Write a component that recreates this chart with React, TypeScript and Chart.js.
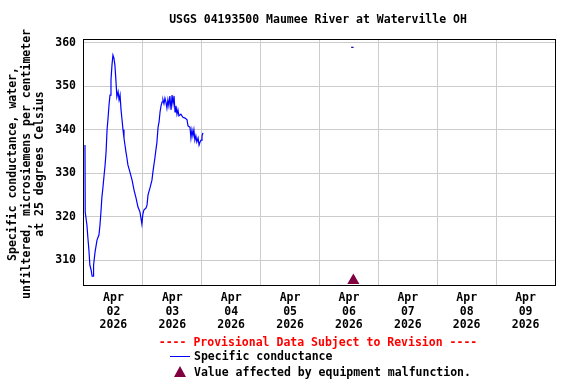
import React, { useEffect, useRef } from "react";
import { Chart, registerables } from "chart.js";

Chart.register(...registerables);

const TITLE = "USGS 04193500 Maumee River at Waterville OH";
const Y_TITLE = [
  "Specific conductance, water,",
  "unfiltered, microsiemens per centimeter",
  "at 25 degrees Celsius",
];
const MONTH = "Apr";
const YEAR = "2026";
const DAYS = ["02", "03", "04", "05", "06", "07", "08", "09"];
const Y_TICKS = [310, 320, 330, 340, 350, 360];

// hours since Apr 02 2026 00:00
const HOURS = [
  0.4, 0.5, 1.2, 1.6, 2.0, 2.4, 2.9, 3.3, 3.7, 3.9, 4.5, 5.3, 6.1, 6.5, 6.9, 7.3, 7.7, 8.2, 8.6, 9.0,
  9.4, 9.8, 10.2, 10.6, 11.0, 11.4, 11.8, 12.2, 12.6, 13.0, 13.4, 13.9, 14.3, 14.7, 15.1, 15.5, 15.9,
  16.3, 16.7, 17.1, 17.5, 17.9, 18.7, 19.6, 20.4, 21.2, 22.0, 22.8, 23.2, 23.6, 24.0, 24.4, 25.3, 25.7,
  26.1, 26.9, 27.7, 28.1, 28.5, 28.9, 29.3, 29.7, 30.2, 30.6, 31.0, 31.4, 31.8, 32.2, 32.6, 33.0, 33.4,
  33.8, 34.2, 34.6, 35.0, 35.5, 35.9, 36.3, 36.7, 37.1, 37.5, 37.9, 38.3, 38.7, 39.5, 40.3, 41.2, 42.0,
  42.4, 43.2, 43.6, 44.0, 44.4, 44.8, 45.2, 45.6, 46.0, 46.5, 46.9, 47.3, 47.7, 48.1, 48.5,
];
const VALUES = [
  336.5, 321, 318, 315, 312.3, 308.8, 307.7, 306.3, 306.3, 308.8, 311.8, 314.6, 315.8, 318, 321, 324.5,
  326.6, 329.6, 331.9, 334.9, 340, 342.7, 345.7, 348, 351.5, 354.9, 357.2, 356.5, 354.9, 351.5, 347.6,
  348.8, 346.9, 348, 344.6, 342.3, 340, 338.1, 336.5, 334.9, 333.5, 331.9, 330.3, 328.4, 326.1, 324.3,
  322.2, 321.1, 319.7, 318.3, 320.6, 321.5, 322, 322.7, 325, 326.6, 328.4, 330.3, 331.9, 333.5, 335.3,
  337, 340.6, 341.8, 344.1, 345.5, 346.4, 346.9, 346, 347.3, 346.4, 345, 346.9, 345.5, 347.8, 344.6,
  348, 346, 347.8, 344.1, 345.5, 343.6, 344.6, 343.2, 343.6, 342.9, 342.7, 342.3, 340.9, 340.6, 338.1,
  340, 338.6, 340, 337.6, 338.6, 337.2, 338.1, 336.5, 337.2, 337.6, 338.6, 339.3,
];
const ISOLATED_HOURS = [109.4];
const ISOLATED_VALUES = [359];
const MALFUNCTION_HOURS = [109.8];
const MALFUNCTION_VALUES = [305.28];

const FONT = "'DejaVu Sans Mono', monospace";

const framePlugin = {
  id: "frameAndText",
  afterDraw(chart: any) {
    const { ctx, chartArea } = chart;
    ctx.save();
    ctx.strokeStyle = "#000";
    ctx.lineWidth = 1;
    ctx.strokeRect(
      Math.round(chartArea.left) - 0.5,
      Math.round(chartArea.top) - 0.5,
      Math.round(chartArea.right - chartArea.left) + 1,
      Math.round(chartArea.bottom - chartArea.top) + 1
    );
    // title
    ctx.fillStyle = "#000";
    ctx.font = `bold 11.5px ${FONT}`;
    ctx.textAlign = "center";
    ctx.textBaseline = "middle";
    ctx.fillText(TITLE, 318, 20);
    // y title
    ctx.save();
    ctx.translate(0, 164);
    ctx.rotate(-Math.PI / 2);
    ctx.font = `bold 11.5px ${FONT}`;
    const xs = [13, 27, 40];
    Y_TITLE.forEach((t, i) => ctx.fillText(t, 0, xs[i]));
    ctx.restore();
    // legend
    ctx.fillStyle = "#ff0000";
    ctx.font = `bold 11.5px ${FONT}`;
    ctx.textAlign = "center";
    ctx.fillText("---- Provisional Data Subject to Revision ----", 318, 343);
    ctx.textAlign = "left";
    ctx.fillStyle = "#000";
    ctx.fillText("Specific conductance", 194, 357);
    ctx.fillText("Value affected by equipment malfunction.", 194, 373);
    ctx.strokeStyle = "#0000ff";
    ctx.beginPath();
    ctx.moveTo(170, 356.5);
    ctx.lineTo(190, 356.5);
    ctx.stroke();
    ctx.fillStyle = "#800040";
    ctx.beginPath();
    ctx.moveTo(180, 366);
    ctx.lineTo(186, 377);
    ctx.lineTo(174, 377);
    ctx.closePath();
    ctx.fill();
    ctx.restore();
  },
};

export default function App() {
  const ref = useRef<HTMLCanvasElement>(null);
  useEffect(() => {
    if (!ref.current) return;
    const chart = new Chart(ref.current, {
      type: "line",
      data: {
        datasets: [
          {
            label: "Specific conductance",
            data: HOURS.map((h, i) => ({ x: h, y: VALUES[i] })),
            borderColor: "#0000ff",
            borderWidth: 1.2,
            pointRadius: 0,
            tension: 0,
          },
          {
            label: "isolated",
            data: ISOLATED_HOURS.map((h, i) => ({ x: h, y: ISOLATED_VALUES[i] })),
            showLine: false,
            pointStyle: "line",
            pointRadius: 1.2,
            backgroundColor: "#0000aa",
            borderColor: "#0000aa",
            borderWidth: 1.2,
          },
          {
            label: "malfunction",
            data: MALFUNCTION_HOURS.map((h, i) => ({ x: h, y: MALFUNCTION_VALUES[i] })),
            showLine: false,
            pointStyle: "triangle",
            pointRadius: 7,
            backgroundColor: "#800040",
            borderColor: "#800040",
            borderWidth: 0,
            clip: false as any,
          },
        ],
      },
      options: {
        animation: false,
        responsive: false,
        layout: { padding: { top: 40, right: 21, left: 0, bottom: 0 } },
        plugins: { legend: { display: false }, tooltip: { enabled: false }, title: { display: false } },
        scales: {
          x: {
            type: "linear",
            min: 0,
            max: 192,
            afterFit: (s: any) => {
              s.height = 99;
            },
            afterBuildTicks: (s: any) => {
              const t = [];
              for (let h = 0; h <= 192; h += 12) t.push({ value: h });
              s.ticks = t;
            },
            ticks: {
              autoSkip: false,
              maxRotation: 0,
              padding: 6,
              color: "#000",
              font: { family: FONT, size: 11.5, weight: "bold", lineHeight: 1.2 },
              callback: (v: any) => {
                const h = Number(v);
                if (h % 24 !== 12) return "";
                const d = Math.floor(h / 24);
                return [MONTH, DAYS[d], YEAR];
              },
            },
            grid: {
              drawTicks: false,
              color: (c: any) => {
                const v = c.tick ? c.tick.value : 0;
                return v % 24 === 0 && v > 0 && v < 192 ? "#cccccc" : "rgba(0,0,0,0)";
              },
            },
            border: { display: false },
          },
          y: {
            type: "linear",
            min: 304.24,
            max: 360.69,
            afterFit: (s: any) => {
              s.width = 84;
            },
            afterBuildTicks: (s: any) => {
              s.ticks = Y_TICKS.map((v) => ({ value: v }));
            },
            ticks: {
              padding: 8,
              color: "#000",
              font: { family: FONT, size: 11.5, weight: "bold" },
            },
            grid: { drawTicks: false, color: "#cccccc" },
            border: { display: false },
          },
        },
      },
      plugins: [framePlugin],
    });
    return () => chart.destroy();
  }, []);
  return (
    <div style={{ position: "absolute", left: 0, top: 0, width: 576, height: 384 }}>
      <canvas ref={ref} width={576} height={384} style={{ width: 576, height: 384 }} />
    </div>
  );
}
